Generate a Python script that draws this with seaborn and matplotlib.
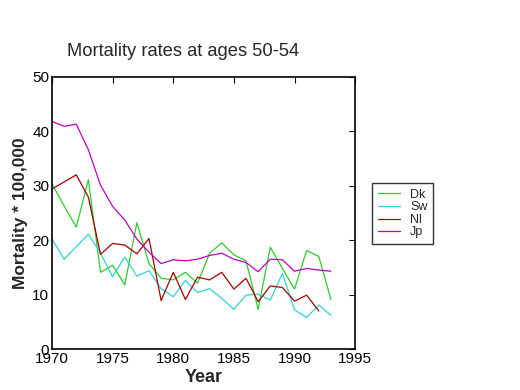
import numpy as np
import pandas as pd
import matplotlib
matplotlib.use("Agg")
import matplotlib.pyplot as plt
import seaborn as sns

years = list(range(1970, 1994))
dk = [30.3, 26.3, 22.4, 31.1, 14.1, 15.4, 11.8, 23.2, 15.7, 13.0, 12.7, 14.1,
      12.1, 17.6, 19.5, 17.3, 16.2, 7.3, 18.7, 14.8, 11.0, 18.1, 17.0, 9.1]
sw = [20.2, 16.5, 18.8, 21.1, 17.6, 13.3, 16.9, 13.4, 14.4, 11.1, 9.6, 12.6,
      10.4, 11.1, 9.3, 7.3, 9.9, 10.1, 9.0, 13.9, 7.2, 5.8, 8.1, 6.2]
nl = [29.4, 30.7, 32.0, 27.9, 17.4, 19.4, 19.1, 17.5, 20.3, 8.9, 14.1, 9.1,
      13.2, 12.7, 14.1, 11.0, 13.0, 8.7, 11.6, 11.3, 8.8, 9.9, 7.0, np.nan]
jp = [41.8, 40.9, 41.3, 36.6, 30.1, 26.2, 23.7, 20.2, 17.8, 15.7, 16.4, 16.2,
      16.5, 17.2, 17.6, 16.5, 15.9, 14.2, 16.5, 16.4, 14.3, 14.8, 14.5, 14.3]
countries = ["Dk", "Sw", "Nl", "Jp"]
colors = ["#2ccc2c", "#2ed4d4", "#a80000", "#c000c0"]

df = pd.concat([
    pd.DataFrame({"Year": years, "Rate": vals, "Country": name})
    for name, vals in zip(countries, [dk, sw, nl, jp])
]).dropna()

sns.set_style("white")
plt.rcParams["font.family"] = ["Liberation Sans", "DejaVu Sans"]

fig = plt.figure(figsize=(5.2, 3.9), dpi=100)
ax = fig.add_axes([0.1, 0.105, 0.583, 0.698])
sns.lineplot(data=df, x="Year", y="Rate", hue="Country", hue_order=countries,
             palette=colors, linewidth=0.9, ax=ax, legend=False, estimator=None)

ax.set_xlim(1970, 1995)
ax.set_ylim(0, 50)
ax.set_xticks(range(1970, 1996, 5))
ax.set_yticks(range(0, 51, 10))
ax.tick_params(direction="in", length=4, width=0.8, top=True, right=True,
               labelsize=11, colors="black", pad=2)
for s in ax.spines.values():
    s.set_color("black")
    s.set_linewidth(1.2)
ax.set_xlabel("Year", fontsize=13, fontweight="bold", labelpad=2)
ax.set_ylabel("Mortality * 100,000", fontsize=12.5, fontweight="bold", labelpad=3)
fig.text(183.5 / 520, 1 - 52 / 390, "Mortality rates at ages 50-54",
         fontsize=13.2, ha="center", va="center")

handles = [plt.Line2D([], [], color=c, lw=0.9) for c in colors]
leg = fig.legend(handles, countries, loc="upper left",
                 bbox_to_anchor=(372 / 520, 1 - 183 / 390), frameon=True,
                 fancybox=False, fontsize=9, handlelength=1.8,
                 borderpad=0.45, labelspacing=0.05, handletextpad=0.8,
                 borderaxespad=0)
leg.get_frame().set_edgecolor("black")
leg.get_frame().set_linewidth(1.0)

fig.savefig("out.png", dpi=100, facecolor="white")
